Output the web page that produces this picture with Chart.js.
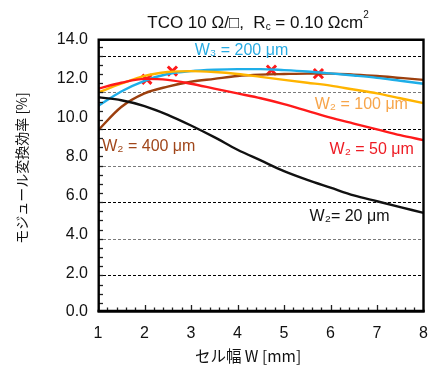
<!DOCTYPE html>
<html><head><meta charset="utf-8">
<script src="https://cdn.jsdelivr.net/npm/chart.js"></script>
<style>html,body{margin:0;padding:0;background:#fff}#wrap{width:433px;height:367px}</style>
</head><body><div id="wrap"><canvas id="c" width="433" height="367"></canvas></div>
<script>
// ---- data ----
const cellWidth = [1, 1.5, 2, 2.5, 3, 3.5, 4, 4.5, 5, 5.5, 6, 6.5, 7, 7.5, 8];
const eff20  = [11.05, 10.9, 10.6, 10.15, 9.6, 9.0, 8.35, 7.8, 7.25, 6.8, 6.4, 6.0, 5.7, 5.4, 5.1];
const eff50  = [11.5, 11.8, 12.0, 11.95, 11.75, 11.5, 11.25, 11.0, 10.7, 10.35, 10.0, 9.7, 9.4, 9.1, 8.85];
const eff100 = [11.3, 11.75, 12.15, 12.35, 12.4, 12.35, 12.25, 12.1, 11.95, 11.8, 11.65, 11.45, 11.25, 11.0, 10.75];
const eff200 = [10.6, 11.35, 11.9, 12.25, 12.4, 12.47, 12.5, 12.5, 12.45, 12.38, 12.28, 12.17, 12.05, 11.9, 11.75];
const eff400 = [9.35, 10.55, 11.25, 11.6, 11.85, 12.0, 12.15, 12.22, 12.25, 12.27, 12.27, 12.22, 12.15, 12.05, 11.95];
const peakX = [2.05, 2.6, 4.73, 5.74];
const peakY = [11.98, 12.4, 12.45, 12.27];
const seriesLabels = ['W\u2082= 20 \u03bcm', 'W\u2082 = 50 \u03bcm', 'W\u2082 = 100 \u03bcm', 'W\u2083 = 200 \u03bcm', 'W\u2082 = 400 \u03bcm'];
const labelX = [5.55, 5.98, 5.66, 3.08, 1.09];
const labelY = [4.89, 8.34, 10.65, 13.43, 8.49];
const gridLevels = [1, 2, 3, 4, 5, 6, 7];

const lineColors = ['#111111', '#ff1a1a', '#ffb400', '#1eaee8', '#9c3f0e'];
const textColors = ['#111111', '#ee1c24', '#f7a54a', '#29abe2', '#a0461a'];
const seriesVals = [eff20, eff50, eff100, eff200, eff400];

const LAT = '"Liberation Sans", Arial, sans-serif';
const CJK = '"Noto Sans CJK JP", sans-serif';

const deco = {
  id: 'deco',
  beforeDatasetsDraw(chart) {
    const {ctx, chartArea: a, scales} = chart;
    const g = scales.yg;
    ctx.save();
    ctx.lineWidth = 1;
    ctx.setLineDash([3, 2]);
    gridLevels.forEach((v, i) => {
      const y = Math.round(g.getPixelForValue(v)) + 0.5;
      ctx.strokeStyle = i % 2 ? '#7a7a7a' : '#000';
      ctx.beginPath(); ctx.moveTo(a.left, y); ctx.lineTo(a.right, y); ctx.stroke();
    });
    ctx.restore();
  },
  afterDatasetsDraw(chart) {
    const {ctx, chartArea: a, scales} = chart;
    const xs = scales.x, ys = scales.y, g = scales.yg;
    ctx.save();
    // ticks
    ctx.strokeStyle = '#222';
    ctx.lineWidth = 1.3;
    for (let k = 1; k * 0.25 < g.max; k++) {
      const y = Math.round(g.getPixelForValue(k * 0.25)) + 0.5;
      ctx.beginPath(); ctx.moveTo(a.left, y); ctx.lineTo(a.left + 5, y); ctx.stroke();
    }
    for (let k = 1; k < 35; k++) {
      const v = 1 + k * 0.2;
      const x = Math.round(xs.getPixelForValue(v)) + 0.5;
      const len = (k % 5 === 0) ? 7 : 4.5;
      ctx.beginPath(); ctx.moveTo(x, a.bottom); ctx.lineTo(x, a.bottom - len); ctx.stroke();
    }
    // frame
    ctx.strokeStyle = '#000';
    ctx.lineWidth = 2.4;
    ctx.beginPath();
    ctx.moveTo(a.left + 0.7, a.bottom); ctx.lineTo(a.left + 0.7, a.top - 0.3);
    ctx.lineTo(a.right, a.top - 0.3); ctx.lineTo(a.right, a.bottom);
    ctx.stroke();
    ctx.lineWidth = 3;
    ctx.beginPath(); ctx.moveTo(a.left - 0.5, a.bottom - 0.8); ctx.lineTo(a.right + 1.2, a.bottom - 0.8); ctx.stroke();

    // series labels
    ctx.font = '16px ' + LAT;
    ctx.textBaseline = 'middle';
    ctx.textAlign = 'left';
    seriesLabels.forEach((t, i) => {
      ctx.fillStyle = textColors[i];
      ctx.fillText(t, xs.getPixelForValue(labelX[i]), ys.getPixelForValue(labelY[i]));
    });

    // title with sub/superscript
    const parts = [
      {t: 'TCO 10 \u03a9/\u25a1,  R', f: 17, dy: 0},
      {t: 'c', f: 10, dy: 2},
      {t: ' = 0.10 \u03a9cm', f: 17, dy: 0},
      {t: '2', f: 10, dy: -10}
    ];
    let total = 0;
    parts.forEach(p => { ctx.font = p.f + 'px ' + LAT; p.w = ctx.measureText(p.t).width; total += p.w; });
    ctx.fillStyle = '#111';
    ctx.textBaseline = 'alphabetic';
    let cx = 258 - total / 2;
    parts.forEach(p => { ctx.font = p.f + 'px ' + LAT; ctx.fillText(p.t, cx, 28 + p.dy); cx += p.w; });

    // axis titles
    ctx.fillStyle = '#111';
    ctx.textBaseline = 'middle';
    ctx.textAlign = 'center';
    ctx.font = '15.5px ' + CJK;
    ctx.fillText('セル幅 W [mm]', 248, 356);
    ctx.save();
    ctx.translate(22, 168);
    ctx.rotate(-Math.PI / 2);
    ctx.font = '14px ' + CJK;
    ctx.fillText('モジュール変換効率 [%]', 0, 0);
    ctx.restore();
    ctx.restore();
  }
};

const datasets = seriesVals.map((vals, i) => ({
  type: 'line',
  data: cellWidth.map((x, j) => ({x: x, y: vals[j]})),
  borderColor: lineColors[i],
  borderWidth: 2.4,
  pointRadius: 0,
  cubicInterpolationMode: 'monotone',
  fill: false
}));
datasets.push({
  type: 'scatter',
  data: peakX.map((x, j) => ({x: x, y: peakY[j]})),
  pointStyle: 'crossRot',
  pointRadius: 6.5,
  borderWidth: 3,
  borderColor: '#ff1a1a',
  backgroundColor: '#ff1a1a'
});

new Chart(document.getElementById('c'), {
  data: {datasets},
  options: {
    responsive: false,
    devicePixelRatio: 1,
    animation: false,
    layout: {padding: {top: 40, right: 9, left: 0, bottom: 0}},
    plugins: {legend: {display: false}, tooltip: {enabled: false}, title: {display: false}},
    scales: {
      x: {
        type: 'linear', min: 1, max: 8,
        ticks: {stepSize: 1, font: {size: 16, family: LAT}, color: '#111', padding: 12, maxRotation: 0},
        grid: {display: false, drawTicks: false},
        border: {display: false},
        afterFit: s => { s.height = 55; s.paddingLeft = 0; s.paddingRight = 0; }
      },
      y: {
        min: 0, max: 14,
        ticks: {stepSize: 2, font: {size: 16, family: LAT}, color: '#111', padding: 10,
                callback: v => v.toFixed(1)},
        grid: {display: false, drawTicks: false},
        border: {display: false},
        afterFit: s => { s.width = 98; s.paddingTop = 0; s.paddingBottom = 0; }
      },
      yg: {
        display: false, position: 'right', min: 0, max: 7.43
      }
    }
  },
  plugins: [deco]
});
</script>
</body></html>
